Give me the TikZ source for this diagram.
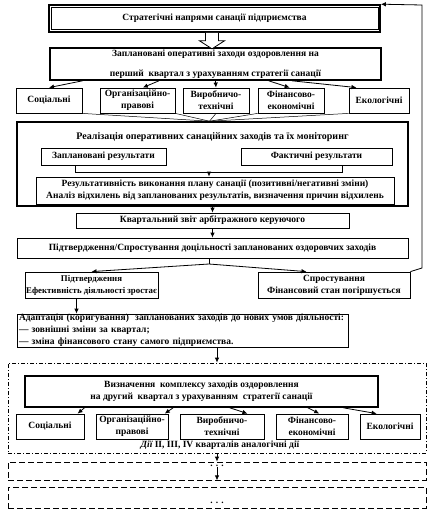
\documentclass[tikz,border=0pt]{standalone}
\usepackage{fontspec}
\setmainfont{Liberation Serif}
\usetikzlibrary{arrows.meta,calc}

\begin{document}
\begin{tikzpicture}[x=1pt,y=-1pt,
  font=\bfseries\fontsize{9.5}{12}\selectfont,
  box/.style={draw,line width=0.8pt,inner sep=0pt,align=center},
  bigbox/.style={draw,line width=1.6pt,inner sep=0pt,align=center},
  arr/.style={line width=0.8pt,-{Latex[length=5pt,width=4.5pt]}}]
  \useasboundingbox (0,0) rectangle (427,511);
  % --- top: strategy and first quarter plan
  \node[bigbox,minimum width=331pt,minimum height=27pt] (strat) at (214.5,18.5)
    {Стратегічні напрями санації підприємства};
  \draw[line width=0.6pt] ([shift={(3pt,-3pt)}]strat.north west) rectangle ([shift={(-3pt,3pt)}]strat.south east);
  \node[bigbox,minimum width=331pt,minimum height=32pt] (plan1) at (215.5,64)
    {Заплановані оперативні заходи оздоровлення на\\[8pt]перший\ \ квартал з урахуванням стратегії санації};
  \draw[line width=0.8pt,fill=white] ([xshift=-9pt]strat.south) -- ++(0,8) -- ++(-6,0)
    -- ++(12.5,8) -- ++(12.5,-8) -- ++(-6,0) -- ++(0,-8);
  % --- directions, first quarter
  \node[box,minimum width=66pt,minimum height=25pt] (soc1) at (49,100.5) {Соціальні};
  \node[box,minimum width=75pt,minimum height=25pt] (org1) at (137.5,100.5) {Організаційно-\\правові};
  \node[box,minimum width=66pt,minimum height=25pt] (vyr1) at (216,100.5) {Виробничо-\\технічні};
  \node[box,minimum width=66pt,minimum height=25pt] (fin1) at (291,100.5) {Фінансово-\\економічні};
  \node[box,minimum width=60pt,minimum height=25pt] (eko1) at (379,100.5) {Екологічні};
  \foreach \fs/\nd/\fe in {0.1/soc1/0.5, 0.33/org1/0.57, 0.5/vyr1/0.5, 0.66/fin1/0.48, 0.73/eko1/0.13}
    \draw[arr] ($(plan1.south west)!\fs!(plan1.south east)$) -- ($(\nd.north west)!\fe!(\nd.north east)$);
  % --- realisation and monitoring
  \node[bigbox,minimum width=391pt,minimum height=84pt] (real) at (212.5,164) {};
  \foreach \an in {soc1.south east, org1.south east, vyr1.south, fin1.south west, eko1.south west}
    \draw[line width=0.5pt] (\an) -- ([xshift=-3pt]real.north);
  \node[font=\bfseries\fontsize{10}{12}\selectfont] (realT) at (212.5,137)
    {Реалізація оперативних санаційних заходів та їх моніторинг};
  \node[box,minimum width=125pt,minimum height=17pt] (zapl) at (103.5,156.5) {Заплановані результати};
  \node[box,minimum width=151pt,minimum height=17pt] (fakt) at (316.5,156.5) {Фактичні результати};
  \node[box,minimum width=358pt,minimum height=27pt] (rez) at (215,190.5)
    {Результативність виконання плану санації (позитивні/негативні зміни)\\
     Аналіз відхилень від запланованих результатів, визначення причин відхилень};
  \coordinate (brL) at (75,172);
  \coordinate (brR) at (342,172);
  \coordinate (brM) at (209,172);
  \draw[line width=0.8pt] (zapl.south -| brL) -- (brL) -- (brR) -- (fakt.south -| brR);
  \draw[arr] (brM) -- (brM |- rez.north);
  % --- report and decision
  \node[box,minimum width=273pt,minimum height=15pt] (zvit) at (212.5,220.5)
    {Квартальний звіт арбітражного керуючого};
  \node[box,minimum width=391pt,minimum height=20pt] (pidt) at (212.5,248)
    {Підтвердження/Спростування доцільності запланованих оздоровчих заходів};
  \draw[arr] (real.south) -- (zvit.north);
  \draw[arr] (zvit.south) -- (pidt.north);
  \node[box,minimum width=133pt,minimum height=26pt,font=\bfseries\fontsize{8.8}{12}\selectfont] (yes) at (91.5,285)
    {Підтвердження\\Ефективність діяльності зростає};
  \node[box,minimum width=152pt,minimum height=26pt] (no) at (334,285)
    {Спростування\\Фінансовий стан погіршується};
  \coordinate (spl) at (209,264);
  \draw[line width=0.8pt] (spl |- pidt.south) -- (spl);
  \draw[arr] (spl) -- (yes.north);
  \draw[arr] (spl) -- ($(no.north west)!0.32!(no.north east)$);
  \coordinate (fbB) at (422,268);
  \coordinate (fbT) at (422,5);
  \draw[arr] (no.north east) -- (fbB) -- (fbT) -- (strat.north east);
  \node[box,minimum width=331pt,minimum height=33pt,text width=327pt,align=left,inner xsep=2pt] (adapt) at (182.5,330.5)
    {Адаптація (коригування)\ \ запланованих заходів до нових умов діяльності:\\
     — зовнішні зміни за квартал;\\
     — зміна фінансового стану самого підприємства.};
  \draw[arr] ([xshift=-15pt]yes.south) -- ([xshift=-15pt]yes.south |- adapt.north);
  % --- second quarter
  \node[draw,line width=0.8pt,dash pattern=on 4pt off 2pt on 1pt off 2pt,minimum width=418pt,minimum height=90pt] (frame) at (217,408) {};
  \draw[arr] (frame.north |- adapt.south) -- (frame.north);
  \node[bigbox,minimum width=353pt,minimum height=31pt] (plan2) at (201.5,391.5)
    {Визначення\ \ комплексу заходів оздоровлення\\на другий\ \ квартал з урахуванням\ \ стратегії санації};
  \node[box,minimum width=68pt,minimum height=25pt] (soc2) at (50,426.5) {Соціальні};
  \node[box,minimum width=72pt,minimum height=25pt] (org2) at (132,426.5) {Організаційно-\\правові};
  \node[box,minimum width=84pt,minimum height=25pt] (vyr2) at (222,426.5) {Виробничо-\\технічні};
  \node[box,minimum width=72pt,minimum height=25pt] (fin2) at (312,426.5) {Фінансово-\\економічні};
  \node[box,minimum width=60pt,minimum height=25pt] (eko2) at (390,426.5) {Екологічні};
  \foreach \fs/\nd/\fe in {0.17/soc2/0.9, 0.42/org2/0.95, 0.58/vyr2/0.8, 0.8/fin2/0.6, 0.9/eko2/0.28}
    \draw[arr] ($(plan2.south west)!\fs!(plan2.south east)$) -- ($(\nd.north west)!\fe!(\nd.north east)$);
  \node (dii) at (220,445) {{\itshape Дії} ІІ, ІІІ, IV кварталів аналогічні дії};
  % --- next quarters
  \node[draw,line width=0.8pt,dash pattern=on 6pt off 3pt,minimum width=418pt,minimum height=18pt] (dash1) at (217,471) {};
  \node[draw,line width=0.8pt,dash pattern=on 6pt off 3pt,minimum width=418pt,minimum height=21pt] (dash2) at (217,497.5) {};
  \draw[arr] (frame.south) -- (dash1.north);
  \node[inner sep=0pt] (dots1) at (217,466) {. . .};
  \node[inner sep=0pt] (dots2) at (217,503) {. . .};
  \draw[arr] (dots1.south) -- (dash1.south);
\end{tikzpicture}
\end{document}
